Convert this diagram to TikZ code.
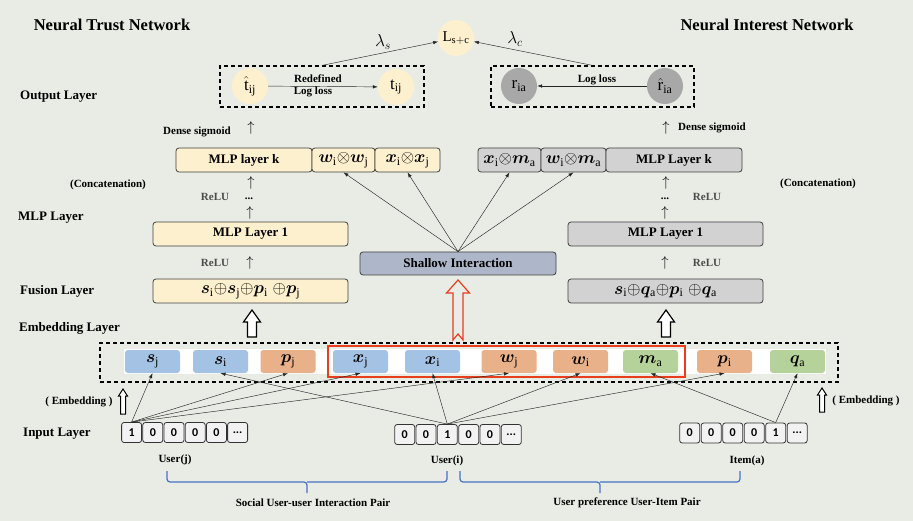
\documentclass[tikz,border=0pt]{standalone}
\usepackage{amsmath}
\usepackage{fontspec}
\usepackage{bm}
\setmainfont{Liberation Serif}
\newfontfamily\cellfont{Carlito}
\usepackage{tikz}
\usetikzlibrary{arrows.meta,%
                positioning}

\definecolor{bgc}{RGB}{233,236,229}
\definecolor{ylw}{RGB}{253,240,206}
\definecolor{gry}{RGB}{211,210,211}
\definecolor{gcirc}{RGB}{168,168,168}
\definecolor{shc}{RGB}{174,183,201}
\definecolor{blu}{RGB}{164,194,228}
\definecolor{org}{RGB}{233,177,137}
\definecolor{grn}{RGB}{181,210,154}
\definecolor{cellc}{RGB}{242,242,242}
\definecolor{bracec}{RGB}{68,114,196}
\definecolor{redc}{RGB}{232,62,30}

\newcommand{\bv}[2]{\bm{#1}_{\mathrm{#2}}}
\newcommand{\mth}{\fontsize{17}{19}\selectfont}
% style, x, tip y, bottom y, head half width, shaft half width, head length
\newcommand{\hollowup}[7]{%
  \draw[#1] (#2,#3) -- ({#2+#5},{#3+#7}) -- ({#2+#6},{#3+#7}) -- ({#2+#6},#4)
    -- ({#2-#6},#4) -- ({#2-#6},{#3+#7}) -- ({#2-#5},{#3+#7}) -- cycle;}

\begin{document}
\begin{tikzpicture}[x=1pt,y=-1pt,>={Latex[length=5pt,width=3.5pt]},
  every node/.style={inner sep=0pt},
  lab/.style={font=\bfseries\fontsize{13}{15}\selectfont, anchor=west},
  small/.style={font=\bfseries\fontsize{11}{13}\selectfont},
  relu/.style={small, text=black!70},
  title/.style={font=\bfseries\fontsize{16.5}{19}\selectfont},
  box/.style={draw=black!75, line width=0.8pt, rounded corners=3pt, minimum height=24pt,
    font=\bfseries\fontsize{13}{15}\selectfont},
  ybox/.style={box, fill=ylw},
  gbox/.style={box, fill=gry},
  emb/.style={rounded corners=3pt, minimum width=55pt, minimum height=23pt, font=\mth},
  cell/.style={draw=black!80, line width=0.8pt, fill=cellc, rounded corners=2.5pt,
    minimum width=20pt, minimum height=20pt, font=\cellfont\bfseries\fontsize{12}{14}\selectfont},
  ball/.style={circle, minimum size=36pt, font=\mth},
  dash box/.style={draw, line width=1.2pt, dash pattern=on 4pt off 3pt},
  link/.style={->, black!85, line width=0.45pt},
  hollow/.style={draw, line width=1.2pt, fill=white},
  brace/.style={draw=bracec, line width=1.2pt, rounded corners=3pt},
  uparr/.style={font=\fontsize{14}{14}\selectfont},
]
\fill[bgc] (0,0) rectangle (913,521);
\useasboundingbox (0,0) rectangle (913,521);

% titles and layer names
\node[title] (ttl) at (112,25) {Neural Trust Network};
\node[title] (tir) at (767,25) {Neural Interest Network};
\node[lab] (lout) at (20,97) {Output Layer};
\node[lab] (lmlp) at (18,218) {MLP Layer};
\node[lab] (lfus) at (20,291) {Fusion Layer};
\node[lab] (lemb) at (19,328) {Embedding Layer};
\node[lab] (linp) at (23,434) {Input Layer};

% output layer
\node[dash box, minimum width=204pt, minimum height=41pt] (outL) at (322,86.5) {};
\node[dash box, minimum width=203pt, minimum height=41pt] (outR) at (592.5,86.5) {};
\node[ball, fill=ylw] (th) at (250,86) {$\hat{\mathrm{t}}_{\mathrm{ij}}$};
\node[ball, fill=ylw] (tt) at (396,87) {$\mathrm{t}_{\mathrm{ij}}$};
\node[ball, fill=gcirc] (rr) at (519,86) {$\mathrm{r}_{\mathrm{ia}}$};
\node[ball, fill=gcirc] (rh) at (665,86) {$\hat{\mathrm{r}}_{\mathrm{ia}}$};
\node[ball, fill=ylw, font=\fontsize{15}{17}\selectfont] (Lsc) at (456,38) {$\mathrm{L}_{\mathrm{s+c}}$};
\draw[link] (th) -- (tt);
\draw[link] (rh) -- (rr);
\node[small] (redef) at (318,79) {Redefined};
\node[small] (ll1) at (313,92) {Log loss};
\node[small] (ll2) at (597,80) {Log loss};
\draw[link] (outL.north) -- (Lsc);
\draw[link] (outR.north) -- (Lsc);
\node (lams) at (383,42) {\mth$\lambda_s$};
\node (lamc) at (515,39) {\mth$\lambda_c$};

% MLP part
\node[small] (dsL) at (197,132) {Dense sigmoid};
\node[small] (dsR) at (712,128) {Dense sigmoid};
\node[uparr] (uL1) at (251,128) {$\uparrow$};
\node[uparr] (uR1) at (666,128) {$\uparrow$};
\node[ybox, minimum width=136pt] (mlpkL) at (244,160) {MLP layer k};
\node[ybox, minimum width=63pt] (wwL) at (343.5,160) {\mth$\bv{w}{i}{\otimes}\bv{w}{j}$};
\node[ybox, minimum width=65pt] (xxL) at (407.5,160) {\mth$\bv{x}{i}{\otimes}\bv{x}{j}$};
\node[gbox, minimum width=63pt] (xmR) at (509.5,160) {\mth$\bv{x}{i}{\otimes}\bv{m}{a}$};
\node[gbox, minimum width=65pt] (wmR) at (573.5,160) {\mth$\bv{w}{i}{\otimes}\bv{m}{a}$};
\node[gbox, minimum width=136pt] (mlpkR) at (674,160) {MLP Layer k};
\node[small] (ccL) at (108,185) {(Concatenation)};
\node[small] (ccR) at (818,184) {(Concatenation)};
\node[uparr] (uL2) at (251,183) {$\uparrow$};
\node[uparr] (uR2) at (666,183) {$\uparrow$};
\node[relu] (reL1) at (215,197) {ReLU};
\node[relu] (reR1) at (707,197) {ReLU};
\node[small] (dotL) at (249,199) {...};
\node[small] (dotR) at (665,199) {...};
\node[uparr] (uL3) at (250,213) {$\uparrow$};
\node[uparr] (uR3) at (665,213) {$\uparrow$};
\node[ybox, minimum width=195pt] (mlp1L) at (250.5,234) {MLP Layer 1};
\node[gbox, minimum width=195pt] (mlp1R) at (665.5,234) {MLP Layer 1};
\node[relu] (reL2) at (215,263) {ReLU};
\node[relu] (reR2) at (707,263) {ReLU};
\node[uparr] (uL4) at (250,263) {$\uparrow$};
\node[uparr] (uR4) at (665,263) {$\uparrow$};
\node[ybox, minimum width=195pt] (fusL) at (250.5,291) {\mth$\bv{s}{i}{\oplus}\bv{s}{j}{\oplus}\bv{p}{i}\;{\oplus}\bv{p}{j}$};
\node[gbox, minimum width=195pt] (fusR) at (665.5,291) {\mth$\bv{s}{i}{\oplus}\bv{q}{a}{\oplus}\bv{p}{i}\;{\oplus}\bv{q}{a}$};

% shallow interaction
\node[box, fill=shc, minimum width=196pt, minimum height=23pt] (shallow) at (458,263.5) {Shallow Interaction};
\draw[link] (shallow.north) -- (wwL.south);
\draw[link] (shallow.north) -- (xxL.south);
\draw[link] (shallow.north) -- (xmR.south);
\draw[link] (shallow.north) -- (wmR.south);

% hollow arrows
\hollowup{hollow}{252}{310}{337}{8.5}{4.5}{12}
\hollowup{hollow}{666}{310}{337}{8.5}{4.5}{12}
\hollowup{hollow, line width=1pt}{123}{389}{414}{4.5}{2.5}{7}
\hollowup{hollow, line width=1pt}{822}{388}{412}{4.5}{2.5}{7}
\draw[hollow, draw=redc, fill=bgc] (458,280) -- (469.5,293) -- (463,293) -- (463,340)
  -- (458,334) -- (453,340) -- (453,293) -- (446.5,293) -- cycle;

% embedding layer
\node[dash box, minimum width=738pt, minimum height=39pt] (embbox) at (469,362.5) {};
\fill[white] (124,349) rectangle (826,374);
\node[emb, fill=blu] (esj) at (152.5,361.5) {$\bv{s}{j}$};
\node[emb, fill=blu] (esi) at (220.5,361.5) {$\bv{s}{i}$};
\node[emb, fill=org] (epj) at (288,361.5) {$\bv{p}{j}$};
\node[emb, fill=blu] (exj) at (360.5,361.5) {$\bv{x}{j}$};
\node[emb, fill=blu] (exi) at (432.5,361.5) {$\bv{x}{i}$};
\node[emb, fill=org] (ewj) at (509,361.5) {$\bv{w}{j}$};
\node[emb, fill=org] (ewi) at (580.5,361.5) {$\bv{w}{i}$};
\node[emb, fill=grn] (ema) at (650.5,361.5) {$\bv{m}{a}$};
\node[emb, fill=org] (epi) at (724.5,361.5) {$\bv{p}{i}$};
\node[emb, fill=grn] (eqa) at (797.5,361.5) {$\bv{q}{a}$};
\draw[redc, line width=1.8pt] (328,346) rectangle (685,377);
\node[small] (embL) at (79,402) {( Embedding )};
\node[small] (embR) at (866,401) {( Embedding )};

% input layer
\node[cell] (uj1) at (131.6,432.5) {1};
\node[cell] (uj2) at (152.8,432.5) {0};
\node[cell] (uj3) at (174,432.5) {0};
\node[cell] (uj4) at (195.2,432.5) {0};
\node[cell] (uj5) at (216.4,432.5) {0};
\node[cell] (uj6) at (237.6,432.5) {...};
\node[cell] (ui1) at (404.7,434.5) {0};
\node[cell] (ui2) at (426,434.5) {0};
\node[cell] (ui3) at (447.3,434.5) {1};
\node[cell] (ui4) at (468.7,434.5) {0};
\node[cell] (ui5) at (490,434.5) {0};
\node[cell] (ui6) at (511.3,434.5) {...};
\node[cell] (ia1) at (689.7,433) {0};
\node[cell] (ia2) at (711.2,433) {0};
\node[cell] (ia3) at (732.7,433) {0};
\node[cell] (ia4) at (754.2,433) {0};
\node[cell] (ia5) at (775.7,433) {1};
\node[cell] (ia6) at (797.2,433) {...};
\draw[link] (uj1.north) -- (esj.south);
\draw[link] (uj1.north) -- (epj.south);
\draw[link] (uj1.north) -- (exj.south);
\draw[link] (uj1.north) -- (ewj.south);
\draw[link] (ui3.north) -- (esi.south);
\draw[link] (ui3.north) -- (exi.south);
\draw[link] (ui3.north) -- (ewi.south);
\draw[link] (ui3.north) -- (epi.south);
\draw[link] (ia5.north) -- (ema.south);
\draw[link] (ia5.north) -- (eqa.south);
\node[small] (usj) at (175,460) {User(j)};
\node[small] (usi) at (447,461) {User(i)};
\node[small] (ita) at (747,461) {Item(a)};

% pairs
\draw[brace] (167,471) |- (307,482) -- (307,493);
\draw[brace] (307,482) -| (447,471);
\draw[brace] (460,471) |- (600,482) -- (600,493);
\draw[brace] (600,482) -| (740,471);
\node[small] (pairL) at (313,503) {Social User-user Interaction Pair};
\node[small] (pairR) at (627,503) {User preference User-Item Pair};
\end{tikzpicture}
\end{document}
